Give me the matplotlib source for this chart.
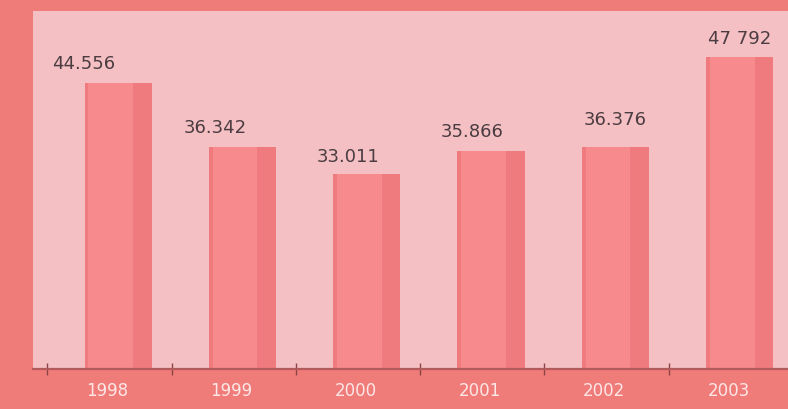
import numpy as np
import matplotlib
matplotlib.use("Agg")
import matplotlib.pyplot as plt

years = ["1998", "1999", "2000", "2001", "2002", "2003"]
values = [44.556, 36.342, 33.011, 35.866, 36.376, 47.792]
labels = ["44.556", "36.342", "33.011", "35.866", "36.376", "47 792"]

# label placement tweaks (pixels), the source chart was hand-laid
lab_dx = [-35, -27, -19, -19, 0, 0]
lab_dy = [20, 20, 18, 20, 28, 19]

outer = "#F07C7A"
panel = "#F5C0C4"
bar_c = "#F07B7E"
hi_c = "#F78A8D"

fig = plt.figure(figsize=(7.88, 4.10), dpi=100, facecolor=outer)
ax = fig.add_axes([33 / 788, 40 / 410, 755 / 788, 358 / 410])
ax.set_facecolor(panel)

x = np.arange(len(years))
shift = 0.09
ax.bar(x + shift, values, width=0.54, color=bar_c, edgecolor="none", zorder=2)
# lighter left/centre part of each bar
ax.bar(x + shift - 0.06, values, width=0.36, color=hi_c, edgecolor="none", zorder=3)

for i, v in enumerate(values):
    ax.annotate(labels[i], (x[i] + shift, v), xytext=(lab_dx[i], lab_dy[i]),
                textcoords="offset pixels", ha="center", va="center",
                fontsize=13, color="#4A3C40", zorder=5)

ax.set_xlim(-0.595, 5.479)
ax.set_ylim(8.13, 53.7)

for s in ["top", "right", "left"]:
    ax.spines[s].set_visible(False)
ax.spines["bottom"].set_color("#B35A5C")
ax.spines["bottom"].set_linewidth(1.6)
ax.spines["bottom"].set_zorder(6)

ax.set_yticks([])
ax.set_xticks(x)
ax.set_xticklabels(years, fontsize=12, color="#FDE6E6")
ax.tick_params(axis="x", which="major", length=0, pad=9)
ax.set_xticks(x - 0.48, minor=True)
ax.tick_params(axis="x", which="minor", length=9, width=1.0, direction="inout",
               color="#8A4446")

fig.savefig("out.png", dpi=100, facecolor=outer)
